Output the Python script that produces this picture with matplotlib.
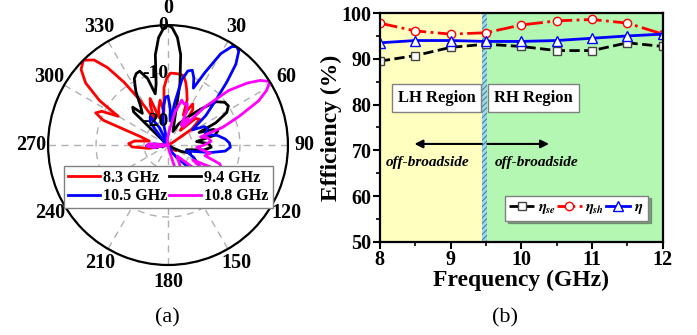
import numpy as np
import matplotlib
matplotlib.use('Agg')
import matplotlib.pyplot as plt
from matplotlib.ticker import MultipleLocator

plt.rcParams['font.family'] = ['Liberation Serif', 'DejaVu Serif']
plt.rcParams['font.weight'] = 'bold'
plt.rcParams['mathtext.fontset'] = 'stix'
plt.rcParams['hatch.linewidth'] = 0.8

# ---- (a) radiation patterns, angle (deg, clockwise from broadside) and gain (dB)
th_83 = [-180, -115, -100, -93, -88, -83, -78, -73, -69, -66, -63, -60, -57, -53, -49, -45, -41, -38, -35, -32,
         -28, -24, -21, -18, -14, -10, -7, -4, -1, 2, 6, 10, 13, 16, 19, 23, 27, 31, 35, 40,
         46, 51, 56, 62, 75, 100, 125, 140, 180]
db_83 = [-25, -25, -21, -17.5, -16.8, -18, -21, -19, -10.5, -8.5, -9.5, -13, -8, -3.5, -1, 0, -1.5, -4.5, -9, -14,
         -19, -16, -14.6, -19, -17, -15.5, -18, -13, -11, -10, -10, -10, -10.3, -11.5, -13, -14.8, -18, -15, -16, -21,
         -17, -16.5, -19, -24, -25, -25, -23, -25, -25]

th_94 = [-180, -120, -100, -85, -58, -50, -46, -43, -39, -35, -31, -27, -24, -21, -17, -14, -11, -8, -5, -2,
         0, 2, 5, 8, 11, 14, 20, 27, 35, 42, 48, 53, 57, 61, 65, 68, 71, 74, 78, 83,
         88, 93, 98, 104, 110, 116, 122, 130, 150, 180]
db_94 = [-25, -25, -22.5, -25, -25, -24, -15, -14.2, -16.5, -15, -12, -9.5, -8.7, -8.5, -10.5, -14, -12, -6, -2.5, -0.5,
         0, -0.5, -2.5, -6, -12, -19, -22, -20, -18, -15, -11.5, -10.2, -10, -11, -14, -18, -15, -14.2, -15, -19,
         -16.5, -16, -17.5, -21, -20, -22, -24, -25, -25, -25]

th_105 = [-180, -120, -100, -92, -85, -70, -50, -38, -32, -26, -18, -12, -7, -3, 0, 3, 6, 9, 12, 15,
          18, 21, 24, 27, 30, 33, 35, 37, 40, 43, 47, 52, 58, 63, 68, 74, 79, 84, 88, 92,
          96, 100, 108, 116, 124, 130, 136, 142, 150, 165, 180]
db_105 = [-25, -25, -22, -20.5, -22, -25, -24, -19, -18, -21, -25, -20, -17, -15, -14.8, -17, -20, -16, -11, -9,
          -8.6, -10, -12, -8, -3, -0.5, 0, -0.5, -3, -7, -11.5, -15, -19, -16.5, -16, -17, -14.5, -13, -12.2, -12,
          -13, -16, -21, -19, -17, -16.5, -17.5, -21, -23, -25, -25]

th_108 = [-180, -120, -100, -92, -86, -78, -60, -30, -10, 5, 12, 17, 21, 25, 29, 33, 37, 40, 44, 48,
          52, 55, 58, 61, 64, 68, 72, 76, 80, 85, 90, 95, 101, 106, 110, 113, 117, 121, 125, 128,
          132, 140, 150, 157, 163, 170, 180]
db_108 = [-25, -25, -22, -20.6, -21, -25, -25, -25, -24, -22, -18, -15.2, -15.8, -15.5, -17, -20, -18, -20, -14, -8,
          -4, -1.5, 0, -1.5, -4, -9, -13, -18, -16.5, -16, -17.5, -19, -16, -17, -13.5, -13, -14.5, -19, -16, -15.8,
          -18, -22, -20, -18.6, -20, -24, -25]

patterns = [('8.3 GHz', th_83, db_83, 'red'),
            ('9.4 GHz', th_94, db_94, 'black'),
            ('10.5 GHz', th_105, db_105, 'blue'),
            ('10.8 GHz', th_108, db_108, 'magenta')]
theta_ticks = list(range(0, 360, 30))
r_ticks = [-20, -10, 0]

# ---- (b) efficiency vs frequency
freq = [8, 8.5, 9, 9.5, 10, 10.5, 11, 11.5, 12]
eta_se = [89.5, 90.7, 92.5, 93.2, 92.7, 91.8, 91.8, 93.5, 92.7]
eta_sh = [97.8, 96.1, 95.4, 95.7, 97.4, 98.3, 98.6, 97.8, 95.4]
eta = [93.5, 94.0, 94.0, 93.8, 93.8, 94.0, 94.5, 95.0, 95.4]
lh_edge, rh_edge = 9.45, 9.51

fig = plt.figure(figsize=(6.97, 3.35), dpi=100)

ax = fig.add_axes([0.0689, 0.209, 0.3443, 0.716], projection='polar')
ax.set_theta_zero_location('N')
ax.set_theta_direction(-1)
lines = {}
for name, th, db, c in patterns:
    lines[name], = ax.plot(np.deg2rad(th), db, color=c, lw=2, label=name)
ax.set_rlim(-25, 0)
ax.set_rticks(r_ticks)
ax.set_yticklabels([])
for r in r_ticks:
    ax.text(0, r, '%d' % r if r != 0 else '0', ha='right', va='center', fontsize=14, fontweight='bold')
ax.set_thetagrids(theta_ticks, [str(t) for t in theta_ticks], fontsize=14.5, fontweight='bold')
ax.tick_params(axis='x', pad=5, direction='in', length=5, width=1.2)
ax.grid(True, color='#b0b0b0', ls=(0, (5, 4)), lw=1)
ax.spines['polar'].set_linewidth(1.6)
order = ['8.3 GHz', '10.5 GHz', '9.4 GHz', '10.8 GHz']
leg = ax.legend([lines[k] for k in order], order, ncol=2, loc='center',
                bbox_to_anchor=(0.2418, 0.442), bbox_transform=fig.transFigure,
                fancybox=False, edgecolor='gray', framealpha=1,
                borderpad=0.25, labelspacing=0.15, handlelength=2.0, handletextpad=0.2,
                columnspacing=0.1, prop={'weight': 'bold', 'size': 11.5})
leg.get_frame().set_linewidth(1)

# right panel
ax2 = fig.add_axes([0.545, 0.278, 0.406, 0.683])
ax2.axvspan(8, lh_edge, color='#FFFFC0', lw=0, zorder=0)
ax2.axvspan(rh_edge, 12, color='#B3F7B3', lw=0, zorder=0)
ax2.axvspan(lh_edge, rh_edge, facecolor='#9ED8EA', edgecolor='#3F86A0', hatch='//////', lw=0, zorder=0)
ax2.plot(freq, eta_se, color='black', ls='--', lw=2, marker='s', ms=5.5, mfc='white', mec='#444444', mew=1,
         label=r'$\eta_{se}$')
ax2.plot(freq, eta_sh, color='red', ls='-.', lw=2, marker='o', ms=6, mfc='white', mec='red', mew=1,
         label=r'$\eta_{sh}$')
ax2.plot(freq, eta, color='blue', ls='-', lw=2, marker='^', ms=6.5, mfc='white', mec='blue', mew=1,
         label=r'$\eta$')
ax2.set_xlim(8, 12)
ax2.set_ylim(50, 100)
ax2.xaxis.set_major_locator(MultipleLocator(1))
ax2.xaxis.set_minor_locator(MultipleLocator(0.5))
ax2.yaxis.set_major_locator(MultipleLocator(10))
ax2.yaxis.set_minor_locator(MultipleLocator(5))
ax2.tick_params(which='major', direction='out', length=5, width=1.5, labelsize=14.5, pad=1)
ax2.tick_params(which='minor', direction='out', length=3, width=1.2)
for s in ax2.spines.values():
    s.set_linewidth(1.6)
ax2.set_xlabel('Frequency (GHz)', fontsize=17, fontweight='bold', labelpad=0)
ax2.set_ylabel('Efficiency (%)', fontsize=17, fontweight='bold', labelpad=0)

box = dict(boxstyle='square,pad=0.35', fc='white', ec='gray', lw=1)
ax2.text(8.8, 81.5, 'LH Region', ha='center', va='center', fontsize=12, fontweight='bold', bbox=box)
ax2.text(10.17, 81.5, 'RH Region', ha='center', va='center', fontsize=12, fontweight='bold', bbox=box)
mid = (lh_edge + rh_edge) / 2
ax2.annotate('', xy=(8.45, 71.4), xytext=(mid, 71.4),
             arrowprops=dict(arrowstyle='-|>', color='black', lw=1.5, mutation_scale=12))
ax2.annotate('', xy=(10.43, 71.4), xytext=(mid, 71.4),
             arrowprops=dict(arrowstyle='-|>', color='black', lw=1.5, mutation_scale=12))
ax2.text(8.68, 67.4, 'off-broadside', ha='center', va='center', fontsize=11, fontweight='bold', style='italic')
ax2.text(10.22, 67.4, 'off-broadside', ha='center', va='center', fontsize=11, fontweight='bold', style='italic')

leg2 = ax2.legend(ncol=3, loc='lower right', bbox_to_anchor=(0.975, 0.06), fontsize=11,
                  fancybox=False, shadow=True, edgecolor='gray', framealpha=1,
                  handlelength=1.6, handletextpad=0.25, columnspacing=0.1, borderpad=0.3)
leg2.get_frame().set_linewidth(1)

fig.text(167 / 697, 1 - 318 / 335, '(a)', ha='center', va='center', fontsize=16, fontweight='normal')
fig.text(505 / 697, 1 - 318 / 335, '(b)', ha='center', va='center', fontsize=16, fontweight='normal')

fig.savefig('out.png', dpi=100)
